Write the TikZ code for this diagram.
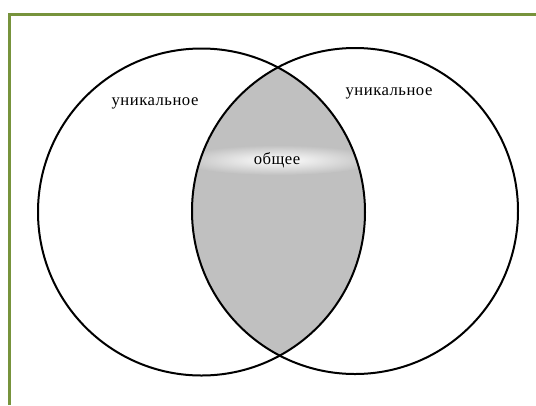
\documentclass[tikz,border=0pt]{standalone}
\usepackage{fontspec}
\setmainfont{Liberation Serif}
\newfontfamily\lblfont[LetterSpace=3]{Liberation Serif}
\definecolor{framegreen}{HTML}{77933C}
\definecolor{lensgray}{HTML}{C0C0C0}

\begin{document}
\begin{tikzpicture}[
  x=0.75pt,y=-0.75pt,
  ring/.style={draw=black,line width=1.5pt},
  lbl/.style={font=\lblfont\fontsize{12.5}{14}\selectfont,inner sep=1pt}
]
\useasboundingbox (0,0) rectangle (536,405);

\draw[framegreen,line width=2.5pt] (9.5,405) -- (9.5,14.5) -- (536,14.5);

\begin{scope}
  \clip (201.5,212) circle (163.5);
  \clip (355,211) circle (163);
  \fill[lensgray] (355,211) circle (163);
  \shade[inner color=white,outer color=lensgray] (278,160) ellipse (100 and 15);
\end{scope}

\draw[ring] (201.5,212) circle (163.5);
\draw[ring] (355,211) circle (163);

\node[lbl] (uniqL) at (155,103) {уникальное};
\node[lbl] (uniqR) at (389,93) {уникальное};
\node[lbl] (common) at (277,160) {общее};
\end{tikzpicture}
\end{document}
